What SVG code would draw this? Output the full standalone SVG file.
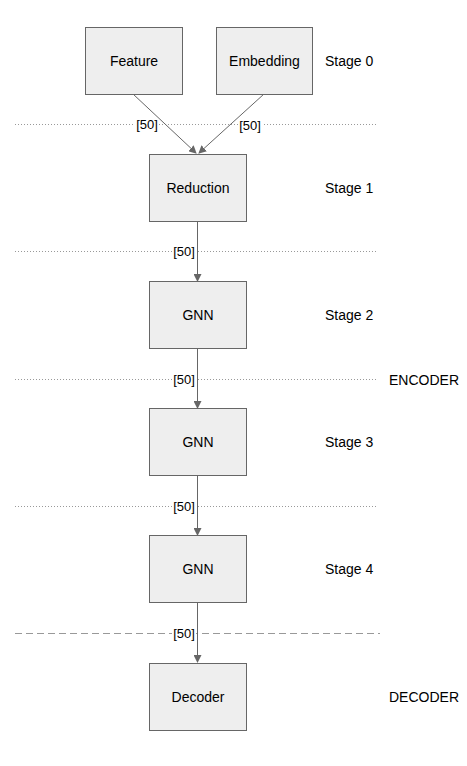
<svg xmlns="http://www.w3.org/2000/svg" width="467" height="766" viewBox="0 0 467 766">
<style>
.box{fill:#eeeeee;stroke:#666666;stroke-width:1}
.t{font-family:"Liberation Sans",Arial,sans-serif;font-size:14px;fill:#000}
.c{text-anchor:middle}
.lbl{font-family:"Liberation Sans",Arial,sans-serif;font-size:13px;fill:#000;text-anchor:middle}
.lb{fill:#ffffff}
.edge{stroke:#666666;stroke-width:1;fill:none;marker-end:url(#ah)}
.dot{stroke:#999999;stroke-width:1;stroke-dasharray:1,2;fill:none}
.dash{stroke:#999999;stroke-width:1.2;stroke-dasharray:7,4;fill:none}
</style>
<defs>
<marker id="ah" markerWidth="8" markerHeight="8" refX="7" refY="4" orient="auto" markerUnits="userSpaceOnUse">
<path d="M0,0 L8,4 L0,8 Z" fill="#666666"/>
</marker>
</defs>
<rect width="467" height="766" fill="#ffffff"/>
<g id="separators">
<line class="dot" x1="15" y1="124.5" x2="378" y2="124.5"/>
<line class="dot" x1="15" y1="251.5" x2="378" y2="251.5"/>
<line class="dot" x1="15" y1="379.5" x2="378" y2="379.5"/>
<line class="dot" x1="15" y1="506.5" x2="378" y2="506.5"/>
<line class="dash" x1="15" y1="633.5" x2="380" y2="633.5"/>
</g>
<g id="stage-labels">
<text class="t" x="325" y="66">Stage 0</text>
<text class="t" x="325" y="193">Stage 1</text>
<text class="t" x="325" y="320">Stage 2</text>
<text class="t" x="325" y="447">Stage 3</text>
<text class="t" x="325" y="574">Stage 4</text>
<text class="t" x="389" y="385">ENCODER</text>
<text class="t" x="389" y="702">DECODER</text>
</g>
<g id="connectors">
<rect class="lb" x="135" y="117" width="24" height="15"/>
<rect class="lb" x="238" y="118" width="24" height="15"/>
<rect class="lb" x="172" y="244" width="24" height="15"/>
<rect class="lb" x="172" y="372" width="24" height="15"/>
<rect class="lb" x="172" y="499" width="24" height="15"/>
<rect class="lb" x="172" y="626" width="24" height="15"/>
<line class="edge" x1="133" y1="94" x2="196" y2="153"/>
<line class="edge" x1="264" y1="94" x2="199" y2="153"/>
<line class="edge" x1="197.5" y1="221" x2="197.5" y2="281"/>
<line class="edge" x1="197.5" y1="348" x2="197.5" y2="408"/>
<line class="edge" x1="197.5" y1="476" x2="197.5" y2="535"/>
<line class="edge" x1="197.5" y1="603" x2="197.5" y2="662"/>
<text class="lbl" x="147" y="129">[50]</text>
<text class="lbl" x="250" y="130">[50]</text>
<text class="lbl" x="184" y="256">[50]</text>
<text class="lbl" x="184" y="384">[50]</text>
<text class="lbl" x="184" y="511">[50]</text>
<text class="lbl" x="184" y="638">[50]</text>
</g>
<g id="feature">
<rect class="box" x="85.5" y="27.5" width="97" height="67"/>
<text class="t c" x="134" y="66">Feature</text>
</g>
<g id="embedding">
<rect class="box" x="216.5" y="27.5" width="96" height="67"/>
<text class="t c" x="264.5" y="66">Embedding</text>
</g>
<g id="reduction">
<rect class="box" x="149.5" y="154.5" width="97" height="67"/>
<text class="t c" x="198" y="193">Reduction</text>
</g>
<g id="gnn1">
<rect class="box" x="149.5" y="281.5" width="97" height="67"/>
<text class="t c" x="198" y="320">GNN</text>
</g>
<g id="gnn2">
<rect class="box" x="149.5" y="408.5" width="97" height="67"/>
<text class="t c" x="198" y="447">GNN</text>
</g>
<g id="gnn3">
<rect class="box" x="149.5" y="535.5" width="97" height="67"/>
<text class="t c" x="198" y="574">GNN</text>
</g>
<g id="decoder">
<rect class="box" x="149.5" y="663.5" width="97" height="67"/>
<text class="t c" x="198" y="702">Decoder</text>
</g>
</svg>
